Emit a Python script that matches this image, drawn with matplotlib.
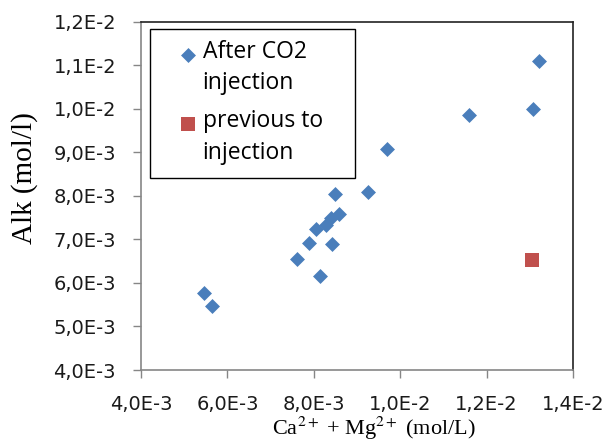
import matplotlib.pyplot as plt
from matplotlib.patches import Rectangle
from matplotlib.ticker import FuncFormatter, MultipleLocator

# Ca2+ + Mg2+ (mol/L) and alkalinity (mol/l)
after_ca_mg = [13.22e-3, 13.07e-3, 11.60e-3, 9.70e-3, 9.26e-3, 8.48e-3, 8.58e-3,
               8.40e-3, 8.28e-3, 8.04e-3, 7.89e-3, 8.43e-3, 7.60e-3, 8.15e-3,
               5.45e-3, 5.64e-3]
after_alk = [11.10e-3, 9.99e-3, 9.85e-3, 9.08e-3, 8.09e-3, 8.04e-3, 7.58e-3,
             7.50e-3, 7.33e-3, 7.25e-3, 6.91e-3, 6.90e-3, 6.55e-3, 6.15e-3,
             5.76e-3, 5.48e-3]
before_ca_mg = [13.04e-3]
before_alk = [6.52e-3]

plt.rcParams['font.family'] = ['Open Sans', 'DejaVu Sans']
plt.rcParams['mathtext.fontset'] = 'stix'


def sci_comma(v, pos):
    # e.g. 1,2E-2
    s = '{:.1E}'.format(v)
    mant, exp = s.split('E')
    return '{}E{}'.format(mant.replace('.', ','), int(exp))


fig = plt.figure(figsize=(6.08, 4.45), dpi=100)
ax = fig.add_axes([0.232, 0.1685, 0.7105, 0.7825])

ax.scatter(after_ca_mg, after_alk, marker='D', s=58, color='#4A7EBB',
           linewidths=0, label='After CO2\ninjection', zorder=3)
ax.scatter(before_ca_mg, before_alk, marker='s', s=110, color='#C0504D',
           linewidths=0, label='previous to\ninjection', zorder=3)

ax.set_xlim(4e-3, 14e-3)
ax.set_ylim(4e-3, 12e-3)
ax.xaxis.set_major_locator(MultipleLocator(2e-3))
ax.yaxis.set_major_locator(MultipleLocator(1e-3))
ax.xaxis.set_major_formatter(FuncFormatter(sci_comma))
ax.yaxis.set_major_formatter(FuncFormatter(sci_comma))

for side in ['left', 'bottom']:
    ax.spines[side].set_color('#868686')
    ax.spines[side].set_linewidth(1.2)
for side in ['top', 'right']:
    ax.spines[side].set_color('#222222')
    ax.spines[side].set_linewidth(1.2)

ax.tick_params(axis='both', direction='out', length=6, width=1,
               color='#868686', labelsize=14, labelcolor='#1a1a1a')
ax.tick_params(axis='y', pad=12)
ax.tick_params(axis='x', pad=12)
for lbl in ax.get_xticklabels() + ax.get_yticklabels():
    lbl.set_family('DejaVu Sans')

ax.set_xlabel('Ca$^{2+}$ + Mg$^{2+}$ (mol/L)', family='Liberation Serif',
              fontsize=16)
ax.xaxis.set_label_coords(233 / 432, -45 / 348.3)
ax.set_ylabel('Alk (mol/l)', family='Liberation Serif', fontsize=21)
ax.yaxis.set_label_coords(-103 / 432, 0.55)

# legend text without frame, box drawn separately
leg = fig.legend(loc='upper left', bbox_to_anchor=(177 / 608, 1 - 40 / 445),
                 fontsize=16.5, frameon=False, borderpad=0, labelspacing=0.62,
                 handletextpad=0.12, handlelength=1.0, borderaxespad=0)
for t in leg.get_texts():
    t.set_linespacing(1.4)
# line the markers up with the first line of each label
for h in leg.legend_handles:
    offs = h.get_offsets()
    offs[:, 1] += 11.5
    h.set_offsets(offs)
fig.patches.append(Rectangle((150 / 608, 1 - 178 / 445), 205 / 608, 149 / 445,
                             transform=fig.transFigure, fill=False,
                             edgecolor='black', linewidth=1.0, zorder=5))

fig.savefig('out.png', dpi=100)
